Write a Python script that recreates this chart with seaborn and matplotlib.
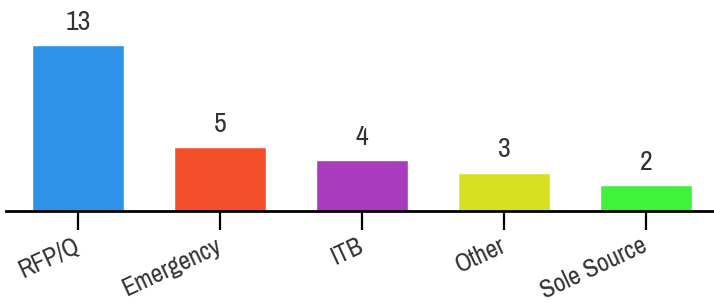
import matplotlib
matplotlib.use("Agg")
import matplotlib.pyplot as plt
import seaborn as sns
import pandas as pd
from matplotlib import font_manager

categories = ["RFP/Q", "Emergency", "ITB", "Other", "Sole Source"]
counts = [13, 5, 4, 3, 2]
colors = ["#2E93E8", "#F44F2B", "#A93BBF", "#D8E022", "#40F23A"]

sns.set_theme(style="white")
names = sorted({f.name for f in font_manager.fontManager.ttflist})
narrow = [n for n in names if "Narrow" in n or "Condensed" in n]
plt.rcParams['font.family'] = narrow[:1] + ['Roboto', 'DejaVu Sans']

df = pd.DataFrame({"type": categories, "count": counts})

fig = plt.figure(figsize=(7.14, 3.03), dpi=100)
ax = fig.add_axes([6 / 714, 92 / 303, 1 - 6 / 714, 211 / 303])

sns.barplot(data=df, x="type", y="count", hue="type", palette=colors,
            width=0.65, saturation=1, legend=False, ax=ax)

for i, v in enumerate(counts):
    ax.text(i, v + 0.8, str(v), ha="center", va="bottom",
            fontsize=20, color="#333333")

ax.set_xlim(-0.507, 4.479)
ax.set_ylim(0, 16.52)
ax.set_xlabel("")
ax.set_ylabel("")
ax.set_yticks([])
for s in ["top", "right", "left"]:
    ax.spines[s].set_visible(False)
ax.spines["bottom"].set_linewidth(2)
ax.spines["bottom"].set_color("black")
ax.tick_params(axis="x", bottom=True, length=14, width=1.6, color="black",
               labelsize=18.5, labelcolor="#333333", pad=10)
plt.setp(ax.get_xticklabels(), rotation=25, ha="right", va="center",
         rotation_mode="anchor")

fig.savefig("out.png", dpi=100)
